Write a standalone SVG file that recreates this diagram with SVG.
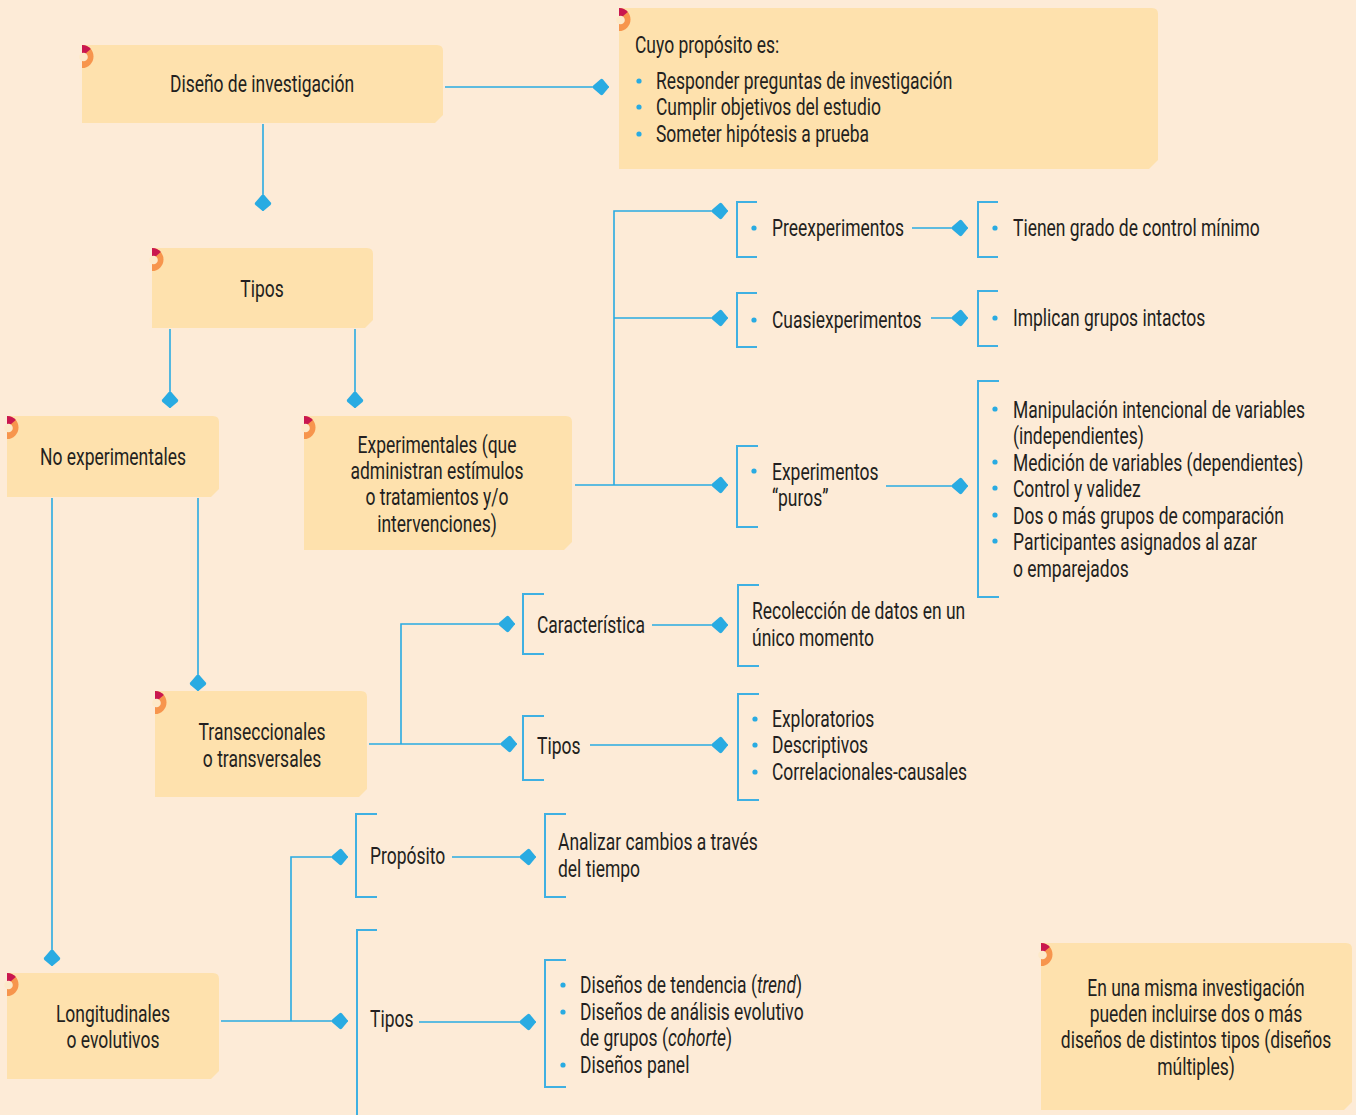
<svg xmlns="http://www.w3.org/2000/svg" width="1356" height="1115" viewBox="0 0 1356 1115">
<defs>
<style>
.bg{fill:#fdebd7}
.box{fill:#fee1ad}
.t{font-family:Roboto,"Liberation Sans",sans-serif;font-size:23px;fill:#231f20}
.c{text-anchor:middle}
.ln{stroke:#29abe2;stroke-width:1.6;fill:none}
.br{stroke:#3fb0e2;stroke-width:2;fill:none}
.dot{fill:#29abe2}
.or{fill:#f7954d}
.mg{fill:#c9174f}
.hole{fill:#fde9c9}
</style>
<marker id="ah" markerUnits="userSpaceOnUse" viewBox="-17 -9 18 18" refX="0" refY="0" markerWidth="18" markerHeight="18" orient="auto">
<path d="M-16,-1.3 L-8.5,-7.8 Q-7.2,-8.8 -6,-7.6 L-0.6,-1 Q0.2,0 -0.6,1 L-6,7.6 Q-7.2,8.8 -8.5,7.8 L-16,1.3 Z" fill="#29abe2"/>
</marker>
<g id="deco">
<path class="or" d="M0,0 A11.5,11.5 0 0 1 0,23 Z"/>
<path class="mg" d="M0,11.5 L0,0 A11.5,11.5 0 0 1 8.8,4.1 Z"/>
<circle class="hole" cx="1.5" cy="12" r="4.3"/>
</g>
</defs>
<rect class="bg" x="0" y="0" width="1356" height="1115"/>

<g id="connectors">
<line class="ln" x1="445" y1="87" x2="609" y2="87" marker-end="url(#ah)"/>
<line class="ln" x1="263" y1="124" x2="263" y2="211" marker-end="url(#ah)"/>
<line class="ln" x1="170" y1="329" x2="170" y2="408" marker-end="url(#ah)"/>
<line class="ln" x1="355" y1="329" x2="355" y2="408" marker-end="url(#ah)"/>
<line class="ln" x1="52" y1="498" x2="52" y2="966" marker-end="url(#ah)"/>
<line class="ln" x1="198" y1="498" x2="198" y2="691" marker-end="url(#ah)"/>
<line class="ln" x1="575" y1="485" x2="728" y2="485" marker-end="url(#ah)"/>
<polyline class="ln" points="614,485 614,211 728,211" marker-end="url(#ah)"/>
<line class="ln" x1="614" y1="318" x2="728" y2="318" marker-end="url(#ah)"/>
<line class="ln" x1="912" y1="228" x2="968" y2="228" marker-end="url(#ah)"/>
<line class="ln" x1="931" y1="318" x2="968" y2="318" marker-end="url(#ah)"/>
<line class="ln" x1="886" y1="486" x2="968" y2="486" marker-end="url(#ah)"/>
<line class="ln" x1="369" y1="744" x2="517" y2="744" marker-end="url(#ah)"/>
<polyline class="ln" points="401,744 401,624 515,624" marker-end="url(#ah)"/>
<line class="ln" x1="652" y1="625" x2="728" y2="625" marker-end="url(#ah)"/>
<line class="ln" x1="590" y1="745" x2="728" y2="745" marker-end="url(#ah)"/>
<line class="ln" x1="221" y1="1021" x2="348" y2="1021" marker-end="url(#ah)"/>
<polyline class="ln" points="291,1021 291,857 348,857" marker-end="url(#ah)"/>
<line class="ln" x1="452" y1="857" x2="536" y2="857" marker-end="url(#ah)"/>
<line class="ln" x1="419" y1="1022" x2="536" y2="1022" marker-end="url(#ah)"/>
</g>

<g id="n-diseno">
<path class="box" d="M82,45 H437 Q443,45 443,51 V115 L435,123 H82 Z"/>
<use href="#deco" x="82" y="45"/>
<text class="t c" transform="translate(262 92) scale(.76 1)">Diseño de investigación</text>
</g>

<g id="n-proposito">
<path class="box" d="M619,8 H1152 Q1158,8 1158,14 V160 L1149,169 H619 Z"/>
<use href="#deco" x="619" y="8"/>
<text class="t" transform="translate(635 53) scale(.76 1)">Cuyo propósito es:</text>
<circle class="dot" cx="639" cy="81" r="2.6"/>
<text class="t" transform="translate(656 89) scale(.76 1)">Responder preguntas de investigación</text>
<circle class="dot" cx="639" cy="107" r="2.6"/>
<text class="t" transform="translate(656 115) scale(.76 1)">Cumplir objetivos del estudio</text>
<circle class="dot" cx="639" cy="134" r="2.6"/>
<text class="t" transform="translate(656 142) scale(.76 1)">Someter hipótesis a prueba</text>
</g>

<g id="n-tipos">
<path class="box" d="M152,248 H367 Q373,248 373,254 V320 L365,328 H152 Z"/>
<use href="#deco" x="152" y="248"/>
<text class="t c" transform="translate(262 297) scale(.76 1)">Tipos</text>
</g>

<g id="n-noexp">
<path class="box" d="M7,416 H213 Q219,416 219,422 V489 L211,497 H7 Z"/>
<use href="#deco" x="7" y="416"/>
<text class="t c" transform="translate(113 465) scale(.76 1)">No experimentales</text>
</g>

<g id="n-exp">
<path class="box" d="M304,416 H566 Q572,416 572,422 V542 L564,550 H304 Z"/>
<use href="#deco" x="304" y="416"/>
<text class="t c" transform="translate(437 453) scale(.76 1)">Experimentales (que</text>
<text class="t c" transform="translate(437 479) scale(.76 1)">administran estímulos</text>
<text class="t c" transform="translate(437 505) scale(.76 1)">o tratamientos y/o</text>
<text class="t c" transform="translate(437 532) scale(.76 1)">intervenciones)</text>
</g>

<g id="n-pre">
<path class="br" d="M757,202 H737 V257 H757"/>
<circle class="dot" cx="754" cy="228" r="2.6"/>
<text class="t" transform="translate(772 236) scale(.76 1)">Preexperimentos</text>
</g>
<g id="n-pre-d">
<path class="br" d="M998,202 H978 V257 H998"/>
<circle class="dot" cx="995" cy="228" r="2.6"/>
<text class="t" transform="translate(1013 236) scale(.76 1)">Tienen grado de control mínimo</text>
</g>

<g id="n-cuasi">
<path class="br" d="M757,293 H737 V347 H757"/>
<circle class="dot" cx="754" cy="320" r="2.6"/>
<text class="t" transform="translate(772 328) scale(.76 1)">Cuasiexperimentos</text>
</g>
<g id="n-cuasi-d">
<path class="br" d="M998,291 H978 V346 H998"/>
<circle class="dot" cx="995" cy="318" r="2.6"/>
<text class="t" transform="translate(1013 326) scale(.76 1)">Implican grupos intactos</text>
</g>

<g id="n-puros">
<path class="br" d="M758,446 H737 V527 H758"/>
<circle class="dot" cx="754" cy="471" r="2.6"/>
<text class="t" transform="translate(772 480) scale(.76 1)">Experimentos</text>
<text class="t" transform="translate(772 506) scale(.76 1)">“puros”</text>
</g>
<g id="n-puros-d">
<path class="br" d="M999,381 H978 V597 H999"/>
<circle class="dot" cx="995" cy="409" r="2.6"/>
<text class="t" transform="translate(1013 418) scale(.76 1)">Manipulación intencional de variables</text>
<text class="t" transform="translate(1013 444) scale(.76 1)">(independientes)</text>
<circle class="dot" cx="995" cy="462" r="2.6"/>
<text class="t" transform="translate(1013 471) scale(.76 1)">Medición de variables (dependientes)</text>
<circle class="dot" cx="995" cy="488" r="2.6"/>
<text class="t" transform="translate(1013 497) scale(.76 1)">Control y validez</text>
<circle class="dot" cx="995" cy="515" r="2.6"/>
<text class="t" transform="translate(1013 524) scale(.76 1)">Dos o más grupos de comparación</text>
<circle class="dot" cx="995" cy="541" r="2.6"/>
<text class="t" transform="translate(1013 550) scale(.76 1)">Participantes asignados al azar</text>
<text class="t" transform="translate(1013 577) scale(.76 1)">o emparejados</text>
</g>

<g id="n-transec">
<path class="box" d="M155,691 H361 Q367,691 367,697 V789 L359,797 H155 Z"/>
<use href="#deco" x="155" y="691"/>
<text class="t c" transform="translate(262 740) scale(.76 1)">Transeccionales</text>
<text class="t c" transform="translate(262 767) scale(.76 1)">o transversales</text>
</g>

<g id="n-caract">
<path class="br" d="M544,594 H523 V654 H544"/>
<text class="t" transform="translate(537 633) scale(.76 1)">Característica</text>
</g>
<g id="n-caract-d">
<path class="br" d="M759,585 H738 V666 H759"/>
<text class="t" transform="translate(752 619) scale(.76 1)">Recolección de datos en un</text>
<text class="t" transform="translate(752 646) scale(.76 1)">único momento</text>
</g>

<g id="n-tipos-t">
<path class="br" d="M544,716 H523 V780 H544"/>
<text class="t" transform="translate(537 754) scale(.76 1)">Tipos</text>
</g>
<g id="n-tipos-t-d">
<path class="br" d="M759,694 H738 V800 H759"/>
<circle class="dot" cx="755" cy="719" r="2.6"/>
<text class="t" transform="translate(772 727) scale(.76 1)">Exploratorios</text>
<circle class="dot" cx="755" cy="745" r="2.6"/>
<text class="t" transform="translate(772 753) scale(.76 1)">Descriptivos</text>
<circle class="dot" cx="755" cy="772" r="2.6"/>
<text class="t" transform="translate(772 780) scale(.76 1)">Correlacionales-causales</text>
</g>

<g id="n-longit">
<path class="box" d="M7,973 H213 Q219,973 219,979 V1071 L211,1079 H7 Z"/>
<use href="#deco" x="7" y="973"/>
<text class="t c" transform="translate(113 1022) scale(.76 1)">Longitudinales</text>
<text class="t c" transform="translate(113 1048) scale(.76 1)">o evolutivos</text>
</g>

<g id="n-prop">
<path class="br" d="M377,814 H356 V897 H377"/>
<text class="t" transform="translate(370 864) scale(.76 1)">Propósito</text>
</g>
<g id="n-prop-d">
<path class="br" d="M566,814 H545 V897 H566"/>
<text class="t" transform="translate(558 850) scale(.76 1)">Analizar cambios a través</text>
<text class="t" transform="translate(558 877) scale(.76 1)">del tiempo</text>
</g>

<g id="n-tipos-l">
<path class="br" d="M377,930 H357 V1115"/>
<text class="t" transform="translate(370 1027) scale(.76 1)">Tipos</text>
</g>
<g id="n-tipos-l-d">
<path class="br" d="M566,960 H545 V1087 H566"/>
<circle class="dot" cx="563" cy="985" r="2.6"/>
<text class="t" transform="translate(580 993) scale(.76 1)">Diseños de tendencia (<tspan font-style="italic">trend</tspan>)</text>
<circle class="dot" cx="563" cy="1012" r="2.6"/>
<text class="t" transform="translate(580 1020) scale(.76 1)">Diseños de análisis evolutivo</text>
<text class="t" transform="translate(580 1046) scale(.76 1)">de grupos (<tspan font-style="italic">cohorte</tspan>)</text>
<circle class="dot" cx="563" cy="1065" r="2.6"/>
<text class="t" transform="translate(580 1073) scale(.76 1)">Diseños panel</text>
</g>

<g id="n-nota">
<path class="box" d="M1041,943 H1346 Q1352,943 1352,949 V1102 L1344,1110 H1041 Z"/>
<use href="#deco" x="1041" y="943"/>
<text class="t c" transform="translate(1196 996) scale(.76 1)">En una misma investigación</text>
<text class="t c" transform="translate(1196 1022) scale(.76 1)">pueden incluirse dos o más</text>
<text class="t c" transform="translate(1196 1048) scale(.76 1)">diseños de distintos tipos (diseños</text>
<text class="t c" transform="translate(1196 1075) scale(.76 1)">múltiples)</text>
</g>
</svg>
